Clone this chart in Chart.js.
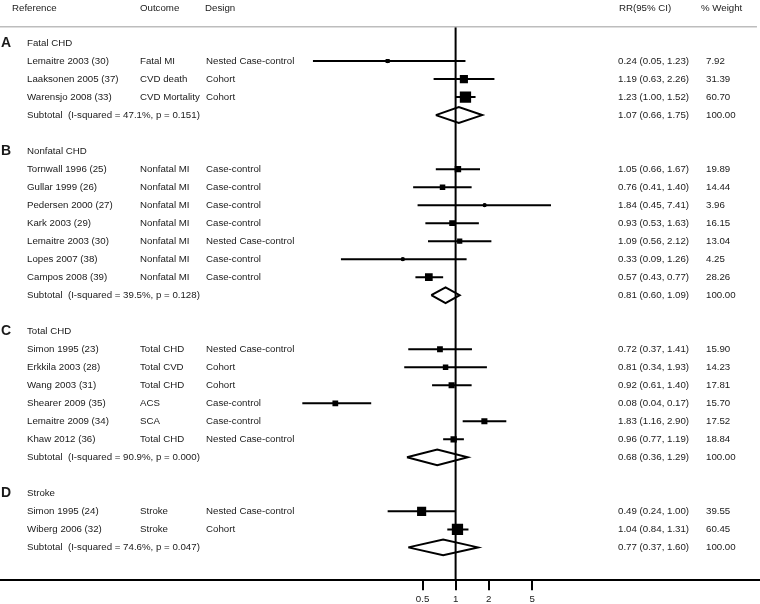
<!DOCTYPE html>
<html>
<head>
<meta charset="utf-8">
<script src="https://cdn.jsdelivr.net/npm/chart.js@4.4.1/dist/chart.umd.min.js"></script>
<style>
  html, body { margin: 0; padding: 0; background: #fff; }
</style>
</head>
<body>
<canvas id="forestChart" width="760" height="604"></canvas>
<script>
// Groups (panels A-D)
const groupLetters = ['A', 'B', 'C', 'D'];
const groupTitles = ['Fatal CHD', 'Nonfatal CHD', 'Total CHD', 'Stroke'];
const groupSizes = [3, 7, 6, 2];

// Individual studies, in plot order
const studies = [
  'Lemaitre 2003 (30)', 'Laaksonen 2005 (37)', 'Warensjo 2008 (33)',
  'Tornwall 1996 (25)', 'Gullar 1999 (26)', 'Pedersen 2000 (27)', 'Kark 2003 (29)',
  'Lemaitre 2003 (30)', 'Lopes 2007 (38)', 'Campos 2008 (39)',
  'Simon 1995 (23)', 'Erkkila 2003 (28)', 'Wang 2003 (31)', 'Shearer 2009 (35)',
  'Lemaitre 2009 (34)', 'Khaw 2012 (36)',
  'Simon 1995 (24)', 'Wiberg 2006 (32)'
];
const outcomes = [
  'Fatal MI', 'CVD death', 'CVD Mortality',
  'Nonfatal MI', 'Nonfatal MI', 'Nonfatal MI', 'Nonfatal MI', 'Nonfatal MI', 'Nonfatal MI', 'Nonfatal MI',
  'Total CHD', 'Total CVD', 'Total CHD', 'ACS', 'SCA', 'Total CHD',
  'Stroke', 'Stroke'
];
const designs = [
  'Nested Case-control', 'Cohort', 'Cohort',
  'Case-control', 'Case-control', 'Case-control', 'Case-control', 'Nested Case-control', 'Case-control', 'Case-control',
  'Nested Case-control', 'Cohort', 'Cohort', 'Case-control', 'Case-control', 'Nested Case-control',
  'Nested Case-control', 'Cohort'
];
const rr = [0.24, 1.19, 1.23, 1.05, 0.76, 1.84, 0.93, 1.09, 0.33, 0.57, 0.72, 0.81, 0.92, 0.08, 1.83, 0.96, 0.49, 1.04];
const ciLow = [0.05, 0.63, 1.00, 0.66, 0.41, 0.45, 0.53, 0.56, 0.09, 0.43, 0.37, 0.34, 0.61, 0.04, 1.16, 0.77, 0.24, 0.84];
const ciHigh = [1.23, 2.26, 1.52, 1.67, 1.40, 7.41, 1.63, 2.12, 1.26, 0.77, 1.41, 1.93, 1.40, 0.17, 2.90, 1.19, 1.00, 1.31];
const weights = [7.92, 31.39, 60.70, 19.89, 14.44, 3.96, 16.15, 13.04, 4.25, 28.26, 15.90, 14.23, 17.81, 15.70, 17.52, 18.84, 39.55, 60.45];

// Subtotals per group
const subLabels = [
  'Subtotal  (I-squared = 47.1%, p = 0.151)',
  'Subtotal  (I-squared = 39.5%, p = 0.128)',
  'Subtotal  (I-squared = 90.9%, p = 0.000)',
  'Subtotal  (I-squared = 74.6%, p = 0.047)'
];
const subRR = [1.07, 0.81, 0.68, 0.77];
const subLow = [0.66, 0.60, 0.36, 0.37];
const subHigh = [1.75, 1.09, 1.29, 1.60];
const subWeight = [100, 100, 100, 100];

// x axis tick labels
const tickValues = [0.5, 1, 2, 5];

// layout: which row each line sits on
const groupRow = [], studyRow = [], subRow = [];
let row = 0;
groupSizes.forEach(n => {
  groupRow.push(row); row++;
  for (let i = 0; i < n; i++) { studyRow.push(row); row++; }
  subRow.push(row); row += 2;
});

const xMin = 7e-5, xMax = 597;
const yMin = -2.39, yMax = 29.83;
const headerRow = -1.94, ruleRow = -0.9;
const diamondHalf = 0.44;
const fmt = v => v.toFixed(2);

// CI whiskers as one line with gaps
const ciData = [];
studies.forEach((s, i) => {
  ciData.push({x: ciLow[i], y: studyRow[i]}, {x: ciHigh[i], y: studyRow[i]}, {x: null, y: null});
});

// subtotal diamonds
const diamondData = [];
subRR.forEach((v, g) => {
  const r = subRow[g];
  diamondData.push(
    {x: subLow[g], y: r}, {x: v, y: r - diamondHalf}, {x: subHigh[g], y: r},
    {x: v, y: r + diamondHalf}, {x: subLow[g], y: r}, {x: null, y: null}
  );
});

const boxData = rr.map((v, i) => ({x: v, y: studyRow[i]}));

// text columns drawn next to the plot
const tablePlugin = {
  id: 'tableText',
  afterDatasetsDraw(chart) {
    const c = chart.ctx;
    const ys = chart.scales.y;
    const font = '9.7px "Liberation Sans", Arial, sans-serif';
    c.save();
    c.fillStyle = '#1a1a1a';
    c.textBaseline = 'middle';
    c.font = font;
    const hy = ys.getPixelForValue(headerRow);
    c.fillText('Reference', 12, hy);
    c.fillText('Outcome', 140, hy);
    c.fillText('Design', 205, hy);
    c.fillText('RR(95% CI)', 619, hy);
    c.fillText('% Weight', 701, hy);

    groupLetters.forEach((L, g) => {
      const y = ys.getPixelForValue(groupRow[g]);
      c.font = 'bold 14px "Liberation Sans", Arial, sans-serif';
      c.fillText(L, 1, y);
      c.font = font;
      c.fillText(groupTitles[g], 27, y);
      const sy = ys.getPixelForValue(subRow[g]);
      c.fillText(subLabels[g], 27, sy);
      c.fillText(fmt(subRR[g]) + ' (' + fmt(subLow[g]) + ', ' + fmt(subHigh[g]) + ')', 618, sy);
      c.fillText(fmt(subWeight[g]), 706, sy);
    });

    studies.forEach((s, i) => {
      const y = ys.getPixelForValue(studyRow[i]);
      c.fillText(s, 27, y);
      c.fillText(outcomes[i], 140, y);
      c.fillText(designs[i], 206, y);
      c.fillText(fmt(rr[i]) + ' (' + fmt(ciLow[i]) + ', ' + fmt(ciHigh[i]) + ')', 618, y);
      c.fillText(fmt(weights[i]), 706, y);
    });
    c.restore();
  }
};

const ctx = document.getElementById('forestChart').getContext('2d');

new Chart(ctx, {
  type: 'scatter',
  data: {
    datasets: [
      {
        // header rule
        type: 'line',
        data: [{x: xMin, y: ruleRow}, {x: 560, y: ruleRow}],
        borderColor: '#bdbdbd',
        borderWidth: 1.5,
        pointRadius: 0
      },
      {
        // line of no effect
        type: 'line',
        data: [{x: 1, y: ruleRow}, {x: 1, y: yMax}],
        borderColor: '#000',
        borderWidth: 2,
        pointRadius: 0
      },
      {
        type: 'line',
        data: ciData,
        borderColor: '#000',
        borderWidth: 2,
        pointRadius: 0,
        spanGaps: false
      },
      {
        type: 'line',
        data: diamondData,
        borderColor: '#000',
        borderWidth: 2,
        borderJoinStyle: 'miter',
        pointRadius: 0,
        spanGaps: false,
        fill: false
      },
      {
        // weight boxes
        data: boxData,
        pointStyle: 'rect',
        backgroundColor: '#000',
        borderWidth: 0,
        pointRadius: c => 1.45 * Math.sqrt(weights[c.dataIndex]) / Math.SQRT2
      },
      {
        // point estimate marker
        data: boxData,
        pointStyle: 'circle',
        backgroundColor: '#000',
        borderWidth: 0,
        pointRadius: 2.1
      }
    ]
  },
  options: {
    responsive: false,
    animation: false,
    layout: { autoPadding: false, padding: { left: 0, right: 0, top: 0, bottom: -4 } },
    plugins: {
      legend: { display: false },
      tooltip: { enabled: false }
    },
    scales: {
      x: {
        type: 'logarithmic',
        min: xMin,
        max: xMax,
        bounds: 'data',
        grid: {
          drawOnChartArea: false,
          drawTicks: true,
          tickLength: 10,
          color: '#000',
          lineWidth: 2
        },
        border: { display: true, color: '#000', width: 2 },
        ticks: {
          color: '#1a1a1a',
          font: { family: '"Liberation Sans", Arial, sans-serif', size: 9.7 },
          autoSkip: false,
          maxRotation: 0,
          callback: v => String(v)
        },
        afterBuildTicks: scale => {
          scale.ticks = tickValues.map(v => ({value: v}));
        }
      },
      y: {
        type: 'linear',
        display: false,
        reverse: true,
        min: yMin,
        max: yMax
      }
    }
  },
  plugins: [tablePlugin]
});
</script>
</body>
</html>
